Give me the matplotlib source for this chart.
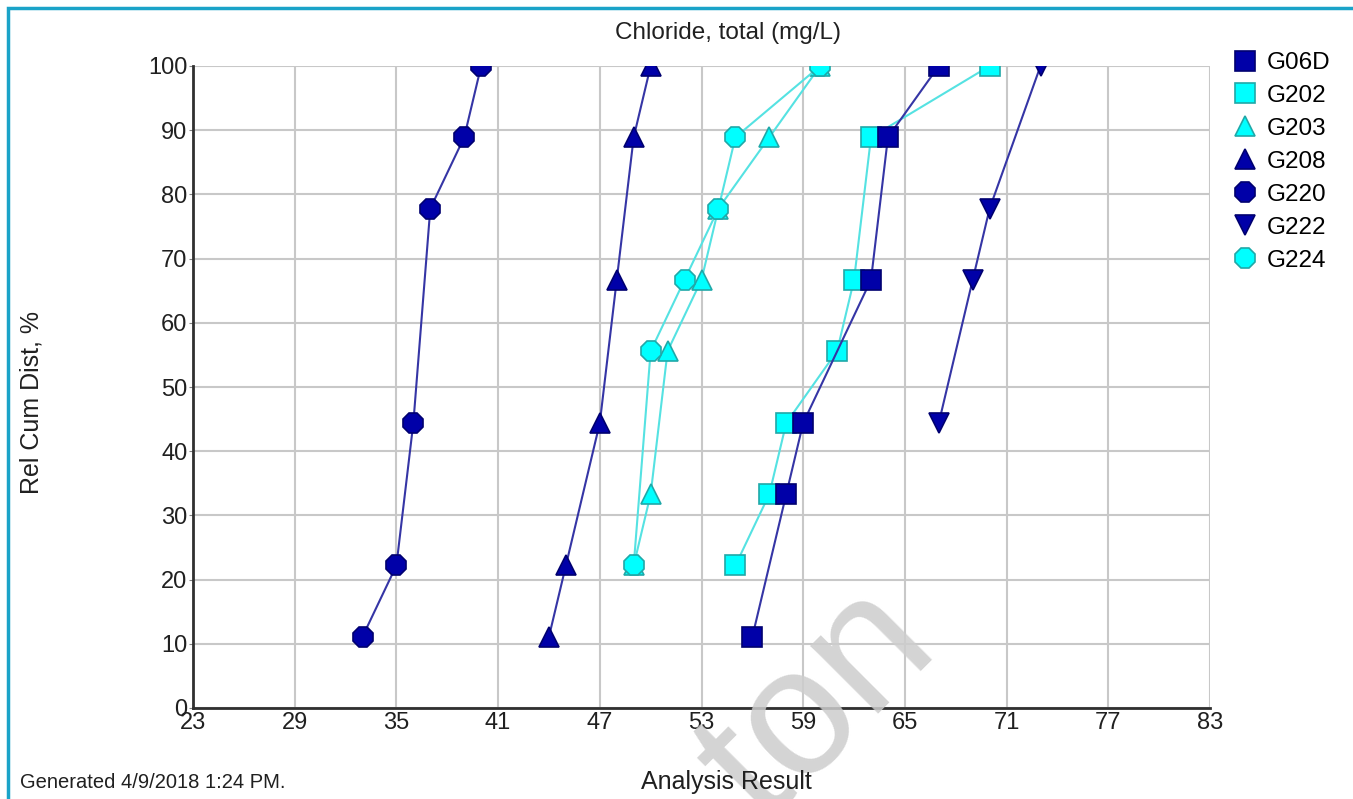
import matplotlib
matplotlib.use("Agg")
import matplotlib.pyplot as plt
from matplotlib.lines import Line2D
from matplotlib.patches import Rectangle

plt.rcParams['font.family'] = ['Liberation Sans', 'DejaVu Sans']

# data
wells = ["G06D", "G202", "G203", "G208", "G220", "G222", "G224"]
x_vals = {
    "G06D": [56, 58, 59, 63, 64, 67],
    "G202": [55, 57, 58, 61, 62, 63, 70],
    "G203": [49, 50, 51, 53, 54, 57, 60],
    "G208": [44, 45, 47, 48, 49, 50],
    "G220": [33, 35, 36, 37, 39, 40],
    "G222": [67, 69, 70, 73],
    "G224": [49, 50, 52, 54, 55, 60],
}
y_vals = {
    "G06D": [11.1, 33.3, 44.4, 66.7, 88.9, 100],
    "G202": [22.2, 33.3, 44.4, 55.6, 66.7, 88.9, 100],
    "G203": [22.2, 33.3, 55.6, 66.7, 77.8, 88.9, 100],
    "G208": [11.1, 22.2, 44.4, 66.7, 88.9, 100],
    "G220": [11.1, 22.2, 44.4, 77.8, 88.9, 100],
    "G222": [44.4, 66.7, 77.8, 100],
    "G224": [22.2, 55.6, 66.7, 77.8, 88.9, 100],
}
x_ticks = [23, 29, 35, 41, 47, 53, 59, 65, 71, 77, 83]
y_ticks = [0, 10, 20, 30, 40, 50, 60, 70, 80, 90, 100]

navy = dict(mfc='#0000A8', mec='#000070', color='#3535A5')
cyan = dict(mfc='#00FFFF', mec='#20A8A8', color='#55E2E2')
styles = {
    "G06D": dict(marker='s', ms=14, **navy),
    "G202": dict(marker='s', ms=14, **cyan),
    "G203": dict(marker='^', ms=15, **cyan),
    "G208": dict(marker='^', ms=15, **navy),
    "G220": dict(marker='8', ms=15, **navy),
    "G222": dict(marker='v', ms=15, **navy),
    "G224": dict(marker='8', ms=15, **cyan),
}
draw_order = ["G202", "G06D", "G203", "G208", "G220", "G222", "G224"]

W, H = 1353, 799
fig = plt.figure(figsize=(W / 100, H / 100), dpi=100)
ax = fig.add_axes([193 / W, 1 - 708 / H, (1210 - 193) / W, (708 - 66) / H])

for w in draw_order:
    ax.plot(x_vals[w], y_vals[w], lw=1.5, mew=1.2, **styles[w])

ax.set_xlim(23, 83)
ax.set_ylim(0, 100)
ax.set_xticks(x_ticks)
ax.set_yticks(y_ticks)
ax.grid(True, color='#C8C8C8', lw=1.5)
ax.set_axisbelow(True)
for s in ['top', 'right']:
    ax.spines[s].set_visible(False)
for s in ['left', 'bottom']:
    ax.spines[s].set_linewidth(2)
    ax.spines[s].set_color('#303030')
ax.tick_params(axis='x', length=0, pad=3, labelsize=17, labelcolor='#202020')
ax.tick_params(axis='y', length=3, pad=1, labelsize=17, labelcolor='#202020', color='#808080')

# legend
handles = [Line2D([], [], ls='none', marker=styles[w]['marker'], ms=styles[w]['ms'],
                  mfc=styles[w]['mfc'], mec=styles[w]['mec'], mew=1.2) for w in wells]
fig.legend(handles, wells, loc='upper left', bbox_to_anchor=(1233 / W, 1 - 52 / H),
           frameon=False, fontsize=17.5, handlelength=1.0, handletextpad=0.4,
           labelspacing=0.45, borderaxespad=0, borderpad=0)

# watermark (behind the other texts)
fig.text(818 / W, 1 - 705 / H, "ton", ha='center', va='center', rotation=45, fontsize=130,
         color='#CDCDCD', alpha=0.85, zorder=1)

# texts
fig.text(728 / W, 1 - 33 / H, "Chloride, total (mg/L)", ha='center', va='center', fontsize=17.5, color='#202020')
fig.text(726 / W, 1 - 782 / H, "Analysis Result", ha='center', va='center', fontsize=18, color='#202020', zorder=4)
fig.text(32 / W, 1 - 402 / H, "Rel Cum Dist, %", ha='center', va='center', rotation=90, fontsize=18, color='#202020')
fig.text(20 / W, 1 - 783 / H, "Generated 4/9/2018 1:24 PM.", ha='left', va='center', fontsize=14.5, color='#202020')

# frame border
fig.patches.append(Rectangle((8 / W, -0.1), 1.2, (1 - 8 / H) + 0.1, transform=fig.transFigure,
                             fill=False, edgecolor='#1AA3C8', lw=2.5))

fig.savefig("out.png", dpi=100)
